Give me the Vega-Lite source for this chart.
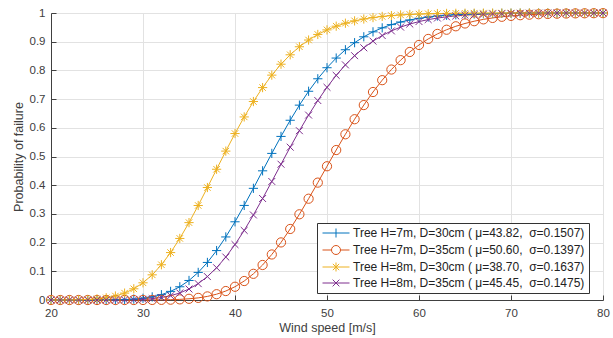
{
"$schema": "https://vega.github.io/schema/vega-lite/v6.json",
"width": 552, "height": 287,
"autosize": {"type": "none"},
"padding": {"left": 51, "top": 13, "right": 10, "bottom": 38},
"background": "white",
"config": {
  "font": "Liberation Sans",
  "view": {"stroke": null},
  "axis": {"labelFont": "Liberation Sans", "titleFont": "Liberation Sans", "labelFontSize": 11.5, "titleFontSize": 12.5, "titleFontWeight": "normal", "labelColor": "#404040", "titleColor": "#404040", "domainColor": "#404040", "tickColor": "#404040", "gridColor": "#e2e2e2", "gridWidth": 1, "tickSize": -5, "domainWidth": 1, "labelOverlap": false, "labelFlush": false},
  "legend": {"title": null, "orient": "none", "legendX": 266, "legendY": 210, "strokeColor": "#333333", "fillColor": "white", "padding": 4, "rowPadding": 3,
         "labelFont": "Liberation Sans", "labelFontSize": 12, "labelColor": "#222222", "symbolSize": 81, "symbolStrokeWidth": 1, "symbolOpacity": 1, "labelOffset": 20, "labelLimit": 0}
},
"datasets": {"pf": [
{"w":20,"t":"H7D30","p":0},{"w":21,"t":"H7D30","p":0},{"w":22,"t":"H7D30","p":0},{"w":23,"t":"H7D30","p":0},{"w":24,"t":"H7D30","p":0},{"w":25,"t":"H7D30","p":0.0001},{"w":26,"t":"H7D30","p":0.0003},{"w":27,"t":"H7D30","p":0.0007},{"w":28,"t":"H7D30","p":0.0015},{"w":29,"t":"H7D30","p":0.0031},{"w":30,"t":"H7D30","p":0.006},{"w":31,"t":"H7D30","p":0.0108},{"w":32,"t":"H7D30","p":0.0185},{"w":33,"t":"H7D30","p":0.03},{"w":34,"t":"H7D30","p":0.0461},{"w":35,"t":"H7D30","p":0.068},{"w":36,"t":"H7D30","p":0.0961},{"w":37,"t":"H7D30","p":0.1309},{"w":38,"t":"H7D30","p":0.1722},{"w":39,"t":"H7D30","p":0.2197},{"w":40,"t":"H7D30","p":0.2725},{"w":41,"t":"H7D30","p":0.3295},{"w":42,"t":"H7D30","p":0.3891},{"w":43,"t":"H7D30","p":0.4501},{"w":44,"t":"H7D30","p":0.5108},{"w":45,"t":"H7D30","p":0.57},{"w":46,"t":"H7D30","p":0.6263},{"w":47,"t":"H7D30","p":0.679},{"w":48,"t":"H7D30","p":0.7273},{"w":49,"t":"H7D30","p":0.7708},{"w":50,"t":"H7D30","p":0.8093},{"w":51,"t":"H7D30","p":0.843},{"w":52,"t":"H7D30","p":0.872},{"w":53,"t":"H7D30","p":0.8966},{"w":54,"t":"H7D30","p":0.9171},{"w":55,"t":"H7D30","p":0.9343},{"w":56,"t":"H7D30","p":0.9482},{"w":57,"t":"H7D30","p":0.9595},{"w":58,"t":"H7D30","p":0.9686},{"w":59,"t":"H7D30","p":0.9758},{"w":60,"t":"H7D30","p":0.9815},{"w":61,"t":"H7D30","p":0.9859},{"w":62,"t":"H7D30","p":0.9894},{"w":63,"t":"H7D30","p":0.992},{"w":64,"t":"H7D30","p":0.994},{"w":65,"t":"H7D30","p":0.9956},{"w":66,"t":"H7D30","p":0.9967},{"w":67,"t":"H7D30","p":0.9976},{"w":68,"t":"H7D30","p":0.9982},{"w":69,"t":"H7D30","p":0.9987},{"w":70,"t":"H7D30","p":0.9991},{"w":71,"t":"H7D30","p":0.9993},{"w":72,"t":"H7D30","p":0.9995},{"w":73,"t":"H7D30","p":0.9997},{"w":74,"t":"H7D30","p":0.9998},{"w":75,"t":"H7D30","p":0.9998},{"w":76,"t":"H7D30","p":0.9999},{"w":77,"t":"H7D30","p":0.9999},{"w":78,"t":"H7D30","p":1},{"w":79,"t":"H7D30","p":1},{"w":80,"t":"H7D30","p":1},
{"w":20,"t":"H7D35","p":0},{"w":21,"t":"H7D35","p":0},{"w":22,"t":"H7D35","p":0},{"w":23,"t":"H7D35","p":0},{"w":24,"t":"H7D35","p":0},{"w":25,"t":"H7D35","p":0},{"w":26,"t":"H7D35","p":0},{"w":27,"t":"H7D35","p":0},{"w":28,"t":"H7D35","p":0},{"w":29,"t":"H7D35","p":0},{"w":30,"t":"H7D35","p":0.0001},{"w":31,"t":"H7D35","p":0.0002},{"w":32,"t":"H7D35","p":0.0005},{"w":33,"t":"H7D35","p":0.0011},{"w":34,"t":"H7D35","p":0.0022},{"w":35,"t":"H7D35","p":0.0042},{"w":36,"t":"H7D35","p":0.0074},{"w":37,"t":"H7D35","p":0.0125},{"w":38,"t":"H7D35","p":0.0202},{"w":39,"t":"H7D35","p":0.0312},{"w":40,"t":"H7D35","p":0.0462},{"w":41,"t":"H7D35","p":0.0661},{"w":42,"t":"H7D35","p":0.0912},{"w":43,"t":"H7D35","p":0.122},{"w":44,"t":"H7D35","p":0.1586},{"w":45,"t":"H7D35","p":0.2006},{"w":46,"t":"H7D35","p":0.2475},{"w":47,"t":"H7D35","p":0.2986},{"w":48,"t":"H7D35","p":0.3529},{"w":49,"t":"H7D35","p":0.409},{"w":50,"t":"H7D35","p":0.466},{"w":51,"t":"H7D35","p":0.5225},{"w":52,"t":"H7D35","p":0.5774},{"w":53,"t":"H7D35","p":0.6299},{"w":54,"t":"H7D35","p":0.6792},{"w":55,"t":"H7D35","p":0.7247},{"w":56,"t":"H7D35","p":0.766},{"w":57,"t":"H7D35","p":0.803},{"w":58,"t":"H7D35","p":0.8357},{"w":59,"t":"H7D35","p":0.8642},{"w":60,"t":"H7D35","p":0.8887},{"w":61,"t":"H7D35","p":0.9096},{"w":62,"t":"H7D35","p":0.9271},{"w":63,"t":"H7D35","p":0.9417},{"w":64,"t":"H7D35","p":0.9537},{"w":65,"t":"H7D35","p":0.9635},{"w":66,"t":"H7D35","p":0.9714},{"w":67,"t":"H7D35","p":0.9778},{"w":68,"t":"H7D35","p":0.9828},{"w":69,"t":"H7D35","p":0.9868},{"w":70,"t":"H7D35","p":0.9899},{"w":71,"t":"H7D35","p":0.9923},{"w":72,"t":"H7D35","p":0.9942},{"w":73,"t":"H7D35","p":0.9957},{"w":74,"t":"H7D35","p":0.9967},{"w":75,"t":"H7D35","p":0.9976},{"w":76,"t":"H7D35","p":0.9982},{"w":77,"t":"H7D35","p":0.9987},{"w":78,"t":"H7D35","p":0.999},{"w":79,"t":"H7D35","p":0.9993},{"w":80,"t":"H7D35","p":0.9995},
{"w":20,"t":"H8D30","p":0},{"w":21,"t":"H8D30","p":0.0001},{"w":22,"t":"H8D30","p":0.0003},{"w":23,"t":"H8D30","p":0.0007},{"w":24,"t":"H8D30","p":0.0018},{"w":25,"t":"H8D30","p":0.0038},{"w":26,"t":"H8D30","p":0.0076},{"w":27,"t":"H8D30","p":0.0139},{"w":28,"t":"H8D30","p":0.024},{"w":29,"t":"H8D30","p":0.039},{"w":30,"t":"H8D30","p":0.0599},{"w":31,"t":"H8D30","p":0.0877},{"w":32,"t":"H8D30","p":0.1228},{"w":33,"t":"H8D30","p":0.1652},{"w":34,"t":"H8D30","p":0.2145},{"w":35,"t":"H8D30","p":0.2696},{"w":36,"t":"H8D30","p":0.3293},{"w":37,"t":"H8D30","p":0.3919},{"w":38,"t":"H8D30","p":0.4556},{"w":39,"t":"H8D30","p":0.5188},{"w":40,"t":"H8D30","p":0.58},{"w":41,"t":"H8D30","p":0.6379},{"w":42,"t":"H8D30","p":0.6915},{"w":43,"t":"H8D30","p":0.7401},{"w":44,"t":"H8D30","p":0.7835},{"w":45,"t":"H8D30","p":0.8216},{"w":46,"t":"H8D30","p":0.8544},{"w":47,"t":"H8D30","p":0.8824},{"w":48,"t":"H8D30","p":0.9058},{"w":49,"t":"H8D30","p":0.9253},{"w":50,"t":"H8D30","p":0.9412},{"w":51,"t":"H8D30","p":0.9541},{"w":52,"t":"H8D30","p":0.9644},{"w":53,"t":"H8D30","p":0.9726},{"w":54,"t":"H8D30","p":0.9791},{"w":55,"t":"H8D30","p":0.9841},{"w":56,"t":"H8D30","p":0.988},{"w":57,"t":"H8D30","p":0.991},{"w":58,"t":"H8D30","p":0.9933},{"w":59,"t":"H8D30","p":0.995},{"w":60,"t":"H8D30","p":0.9963},{"w":61,"t":"H8D30","p":0.9973},{"w":62,"t":"H8D30","p":0.998},{"w":63,"t":"H8D30","p":0.9985},{"w":64,"t":"H8D30","p":0.9989},{"w":65,"t":"H8D30","p":0.9992},{"w":66,"t":"H8D30","p":0.9994},{"w":67,"t":"H8D30","p":0.9996},{"w":68,"t":"H8D30","p":0.9997},{"w":69,"t":"H8D30","p":0.9998},{"w":70,"t":"H8D30","p":0.9998},{"w":71,"t":"H8D30","p":0.9999},{"w":72,"t":"H8D30","p":0.9999},{"w":73,"t":"H8D30","p":0.9999},{"w":74,"t":"H8D30","p":1},{"w":75,"t":"H8D30","p":1},{"w":76,"t":"H8D30","p":1},{"w":77,"t":"H8D30","p":1},{"w":78,"t":"H8D30","p":1},{"w":79,"t":"H8D30","p":1},{"w":80,"t":"H8D30","p":1},
{"w":20,"t":"H8D35","p":0},{"w":21,"t":"H8D35","p":0},{"w":22,"t":"H8D35","p":0},{"w":23,"t":"H8D35","p":0},{"w":24,"t":"H8D35","p":0},{"w":25,"t":"H8D35","p":0},{"w":26,"t":"H8D35","p":0.0001},{"w":27,"t":"H8D35","p":0.0002},{"w":28,"t":"H8D35","p":0.0005},{"w":29,"t":"H8D35","p":0.0012},{"w":30,"t":"H8D35","p":0.0024},{"w":31,"t":"H8D35","p":0.0047},{"w":32,"t":"H8D35","p":0.0087},{"w":33,"t":"H8D35","p":0.015},{"w":34,"t":"H8D35","p":0.0245},{"w":35,"t":"H8D35","p":0.0383},{"w":36,"t":"H8D35","p":0.057},{"w":37,"t":"H8D35","p":0.0816},{"w":38,"t":"H8D35","p":0.1124},{"w":39,"t":"H8D35","p":0.1497},{"w":40,"t":"H8D35","p":0.1932},{"w":41,"t":"H8D35","p":0.2424},{"w":42,"t":"H8D35","p":0.2963},{"w":43,"t":"H8D35","p":0.3536},{"w":44,"t":"H8D35","p":0.413},{"w":45,"t":"H8D35","p":0.4731},{"w":46,"t":"H8D35","p":0.5325},{"w":47,"t":"H8D35","p":0.5899},{"w":48,"t":"H8D35","p":0.6443},{"w":49,"t":"H8D35","p":0.695},{"w":50,"t":"H8D35","p":0.7411},{"w":51,"t":"H8D35","p":0.7827},{"w":52,"t":"H8D35","p":0.8193},{"w":53,"t":"H8D35","p":0.8513},{"w":54,"t":"H8D35","p":0.8787},{"w":55,"t":"H8D35","p":0.902},{"w":56,"t":"H8D35","p":0.9215},{"w":57,"t":"H8D35","p":0.9376},{"w":58,"t":"H8D35","p":0.9508},{"w":59,"t":"H8D35","p":0.9616},{"w":60,"t":"H8D35","p":0.9701},{"w":61,"t":"H8D35","p":0.977},{"w":62,"t":"H8D35","p":0.9824},{"w":63,"t":"H8D35","p":0.9866},{"w":64,"t":"H8D35","p":0.9898},{"w":65,"t":"H8D35","p":0.9924},{"w":66,"t":"H8D35","p":0.9943},{"w":67,"t":"H8D35","p":0.9957},{"w":68,"t":"H8D35","p":0.9968},{"w":69,"t":"H8D35","p":0.9977},{"w":70,"t":"H8D35","p":0.9983},{"w":71,"t":"H8D35","p":0.9988},{"w":72,"t":"H8D35","p":0.9991},{"w":73,"t":"H8D35","p":0.9993},{"w":74,"t":"H8D35","p":0.9995},{"w":75,"t":"H8D35","p":0.9997},{"w":76,"t":"H8D35","p":0.9998},{"w":77,"t":"H8D35","p":0.9998},{"w":78,"t":"H8D35","p":0.9999},{"w":79,"t":"H8D35","p":0.9999},{"w":80,"t":"H8D35","p":0.9999}
]},
"data": {"name": "pf"},
"encoding": {
  "x": {"field": "w", "type": "quantitative", "scale": {"domain": [20, 80], "nice": false, "zero": false},
        "axis": {"values": [20, 30, 40, 50, 60, 70, 80], "title": "Wind speed [m/s]", "labelPadding": 12, "titlePadding": 3}},
  "y": {"field": "p", "type": "quantitative", "scale": {"domain": [0, 1], "nice": false},
        "axis": {"values": [0, 0.1, 0.2, 0.3, 0.4, 0.5, 0.6, 0.7, 0.8, 0.9, 1], "format": "~g", "title": "Probability of failure", "labelPadding": 11, "titlePadding": 4}},
  "color": {"field": "t", "type": "nominal", "scale": {"domain": ["H7D30", "H7D35", "H8D30", "H8D35"], "range": ["#0072BD", "#D95319", "#EDB120", "#7E2F8E"]},
       "legend": {"labelExpr": "datum.value=='H7D30' ? 'Tree H=7m, D=30cm ( μ=43.82,\u00a0 σ=0.1507)' : datum.value=='H7D35' ? 'Tree H=7m, D=35cm ( μ=50.60,\u00a0 σ=0.1397)' : datum.value=='H8D30' ? 'Tree H=8m, D=30cm ( μ=38.70,\u00a0 σ=0.1637)' : 'Tree H=8m, D=35cm ( μ=45.45,\u00a0 σ=0.1475)'"}}
},
"layer": [
  {"mark": {"type": "line", "strokeWidth": 1}},
  {"mark": {"type": "point", "filled": false, "strokeWidth": 1, "opacity": 0},
   "encoding": {
     "shape": {"field": "t", "type": "nominal", "scale": {"domain": ["H7D30", "H7D35", "H8D30", "H8D35"], "range": ["M-1,0H5M2,-1V1", "M-1,0H1M3,0H5M1,0A1,1 0 1,1 3,0A1,1 0 1,1 1,0", "M-1,0H5M2,-1V1M1.3,-0.7L2.7,0.7M1.3,0.7L2.7,-0.7", "M-1,0H5M1.25,-0.75L2.75,0.75M1.25,0.75L2.75,-0.75"]},
       "legend": {"labelExpr": "datum.value=='H7D30' ? 'Tree H=7m, D=30cm ( μ=43.82,\u00a0 σ=0.1507)' : datum.value=='H7D35' ? 'Tree H=7m, D=35cm ( μ=50.60,\u00a0 σ=0.1397)' : datum.value=='H8D30' ? 'Tree H=8m, D=30cm ( μ=38.70,\u00a0 σ=0.1637)' : 'Tree H=8m, D=35cm ( μ=45.45,\u00a0 σ=0.1475)'"}}
   }},
  {"transform": [{"filter": "datum.t == 'H7D30'"}],
   "mark": {"type": "point", "filled": false, "size": 85, "strokeWidth": 1, "opacity": 1, "shape": "M-1,0H1M0,-1V1"}},
  {"transform": [{"filter": "datum.t == 'H7D35'"}],
   "mark": {"type": "point", "filled": false, "size": 85, "strokeWidth": 1, "opacity": 1, "shape": "circle"}},
  {"transform": [{"filter": "datum.t == 'H8D30'"}],
   "mark": {"type": "point", "filled": false, "size": 85, "strokeWidth": 1, "opacity": 1, "shape": "M-1,0H1M0,-1V1M-0.7,-0.7L0.7,0.7M-0.7,0.7L0.7,-0.7"}},
  {"transform": [{"filter": "datum.t == 'H8D35'"}],
   "mark": {"type": "point", "filled": false, "size": 85, "strokeWidth": 1, "opacity": 1, "shape": "M-0.75,-0.75L0.75,0.75M-0.75,0.75L0.75,-0.75"}}
]
}
